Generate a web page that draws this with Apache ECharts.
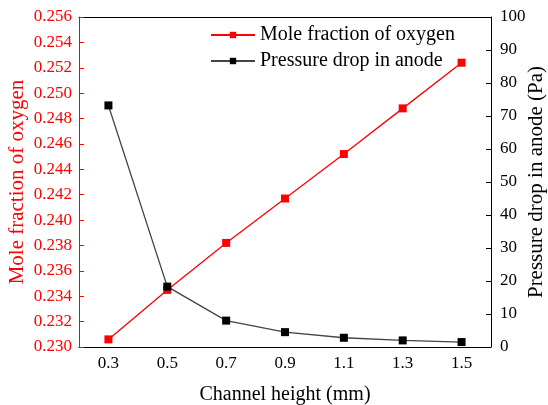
<!DOCTYPE html>
<html><head><meta charset="utf-8">
<script src="https://cdn.jsdelivr.net/npm/echarts@6/dist/echarts.min.js"></script>
<style>html,body{margin:0;padding:0;background:#fff}#c{width:548px;height:405px}</style>
</head><body><div id="c"></div>
<script>
const channelHeights = ['0.3','0.5','0.7','0.9','1.1','1.3','1.5'];
const moleFraction = [0.2306, 0.2345, 0.2382, 0.2417, 0.2452, 0.2488, 0.2524];
const pressureDrop = [73.2, 18.3, 8.0, 4.5, 2.8, 2.0, 1.5];
const FONT = '"Liberation Serif","Times New Roman",serif';
const RED = '#ff0000';
const chart = echarts.init(document.getElementById('c'));
chart.setOption({
  animation: false,
  grid: {left: 79, right: 57, top: 17, bottom: 58, containLabel: false, outerBoundsMode: 'none'},
  legend: {
    left: 205, top: 20, orient: 'vertical', itemGap: 6,
    itemWidth: 44, itemHeight: 8,
    textStyle: {fontFamily: FONT, fontSize: 20, color: '#000'},
    data: ['Mole fraction of oxygen', 'Pressure drop in anode']
  },
  xAxis: [{
    type: 'category', data: channelHeights, boundaryGap: true,
    name: 'Channel height (mm)', nameLocation: 'middle', nameGap: 38, nameMoveOverlap: false,
    nameTextStyle: {fontFamily: FONT, fontSize: 20, color: '#000'},
    axisLine: {lineStyle: {color: '#000', width: 1}},
    axisTick: {alignWithLabel: true, inside: true, length: 5, lineStyle: {color: '#000'}},
    axisLabel: {fontFamily: FONT, fontSize: 17, color: '#000', margin: 8}
  }, {
    type: 'category', data: channelHeights, position: 'top',
    axisLine: {lineStyle: {color: '#000'}}, axisTick: {show: false}, axisLabel: {show: false}
  }],
  yAxis: [{
    type: 'value', min: 0.230, max: 0.256, interval: 0.002,
    name: 'Mole fraction of oxygen', nameLocation: 'middle', nameGap: 51, nameMoveOverlap: false,
    nameTextStyle: {fontFamily: FONT, fontSize: 21, color: RED},
    axisLine: {show: true, lineStyle: {color: RED, width: 1}},
    axisTick: {show: true, inside: true, length: 5, lineStyle: {color: RED}},
    axisLabel: {fontFamily: FONT, fontSize: 17, color: RED, margin: 7, formatter: v => v.toFixed(3)},
    splitLine: {show: false}
  }, {
    type: 'value', min: 0, max: 100, interval: 10, position: 'right',
    name: 'Pressure drop in anode (Pa)', nameLocation: 'middle', nameGap: 35, nameRotate: 90, nameMoveOverlap: false,
    nameTextStyle: {fontFamily: FONT, fontSize: 21, color: '#000'},
    axisLine: {show: true, lineStyle: {color: '#000', width: 1}},
    axisTick: {show: true, inside: true, length: 5, lineStyle: {color: '#000'}},
    axisLabel: {fontFamily: FONT, fontSize: 17, color: '#000', margin: 9},
    splitLine: {show: false}
  }],
  series: [{
    name: 'Mole fraction of oxygen', type: 'line', yAxisIndex: 0, data: moleFraction,
    symbol: 'rect', symbolSize: 8,
    lineStyle: {color: RED, width: 1.3}, itemStyle: {color: RED}
  }, {
    name: 'Pressure drop in anode', type: 'line', yAxisIndex: 1, data: pressureDrop,
    symbol: 'rect', symbolSize: 8,
    lineStyle: {color: '#444', width: 1.3}, itemStyle: {color: '#000'}
  }]
});
</script></body></html>
